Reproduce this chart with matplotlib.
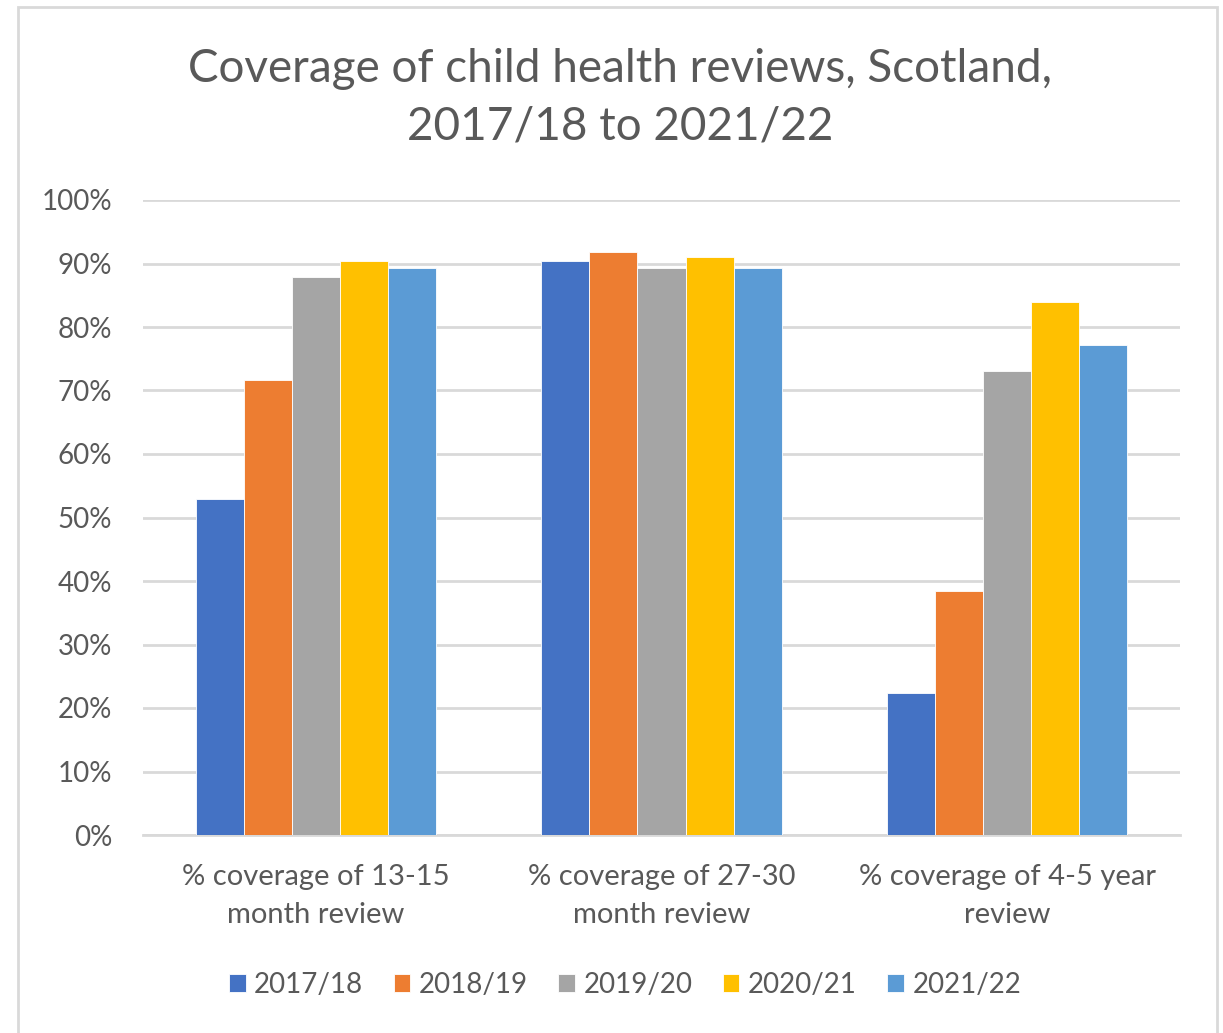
import numpy as np
import matplotlib.pyplot as plt
from matplotlib.patches import Rectangle
from matplotlib.ticker import FuncFormatter

plt.rcParams['font.family'] = ['Lato', 'DejaVu Sans']

# data --------------------------------------------------------------------
categories = ['% coverage of 13-15\nmonth review',
              '% coverage of 27-30\nmonth review',
              '% coverage of 4-5 year\nreview']
years = ['2017/18', '2018/19', '2019/20', '2020/21', '2021/22']
cov_2017 = [52.9, 90.4, 22.3]
cov_2018 = [71.7, 91.8, 38.4]
cov_2019 = [87.9, 89.3, 73.0]
cov_2020 = [90.4, 91.0, 83.9]
cov_2021 = [89.3, 89.3, 77.2]
series = [cov_2017, cov_2018, cov_2019, cov_2020, cov_2021]
colors = ['#4472C4', '#ED7D31', '#A5A5A5', '#FFC000', '#5B9BD5']

text_col = '#595959'

fig = plt.figure(figsize=(12.23, 10.33), dpi=100)
ax = fig.add_axes([143/1223, 1 - 835/1033, (1180 - 143)/1223, (835 - 200)/1033])

x = np.arange(len(categories))
w = 0.139
for i, (vals, c) in enumerate(zip(series, colors)):
    ax.bar(x + (i - 2) * w, np.array(vals) / 100, width=w, color=c,
           label=years[i], edgecolor='white', linewidth=0.6, zorder=3)

ax.set_xlim(-0.5, 2.5)
ax.set_ylim(0, 1.0)
ax.set_yticks(np.arange(0, 1.01, 0.1))
ax.yaxis.set_major_formatter(FuncFormatter(lambda v, p: f'{v*100:.0f}%'))
ax.grid(axis='y', color='#D9D9D9', linewidth=2, zorder=0)
ax.set_axisbelow(True)
for s in ['top', 'right', 'left']:
    ax.spines[s].set_visible(False)
ax.spines['bottom'].set_color('#D9D9D9')
ax.spines['bottom'].set_linewidth(2)
ax.tick_params(axis='y', length=0, labelsize=20, colors=text_col, pad=22)
ax.set_xticks(x)
ax.set_xticklabels(categories, fontsize=21, color=text_col, linespacing=1.55)
ax.tick_params(axis='x', length=0, colors=text_col, pad=21)

fig.text(0.507, 1 - 98/1033, 'Coverage of child health reviews, Scotland,\n2017/18 to 2021/22',
         ha='center', va='center', fontsize=33, color=text_col, linespacing=1.45)

leg = fig.legend(loc='center', bbox_to_anchor=(0.511, 1 - 985/1033), ncol=5,
                 frameon=False, fontsize=20, handlelength=0.6, handleheight=0.6,
                 handletextpad=0.3, columnspacing=1.1)
for t in leg.get_texts():
    t.set_color(text_col)

# chart border
fig.patches.append(Rectangle((18/1223, -0.01), (1217 - 18)/1223, 1 - 7/1033 + 0.01,
                             transform=fig.transFigure, fill=False,
                             edgecolor='#D9D9D9', linewidth=2))

fig.savefig('out.png', dpi=100)
